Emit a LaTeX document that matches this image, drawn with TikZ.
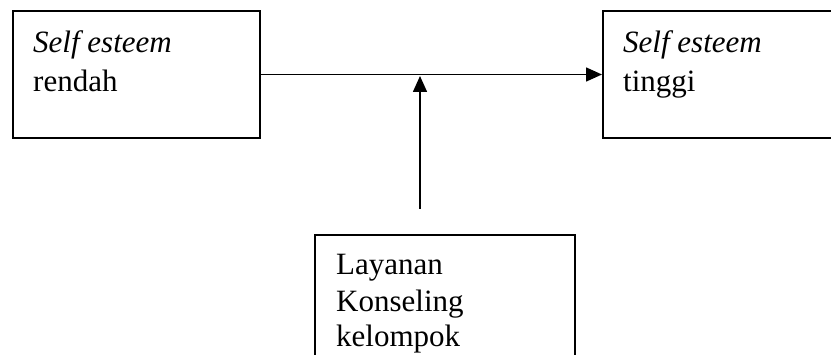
\documentclass[tikz,border=0pt]{standalone}
\usepackage{fontspec}
\setmainfont{Liberation Serif}
\usetikzlibrary{arrows.meta}
\begin{document}
\begin{tikzpicture}[x=1pt,y=1pt,
  boxstyle/.style={draw, line width=2pt, inner sep=0, anchor=south west},
  txt/.style={inner sep=0, anchor=base west},
  conn/.style={line width=1.6pt, -{Triangle[length=16pt,width=14pt]}}]
\useasboundingbox (0,0) rectangle (831,354);
\clip (0,0) rectangle (831,354);
\node[boxstyle, minimum width=247pt, minimum height=127pt] (low) at (12,215) {};
\node[boxstyle, minimum width=260pt, minimum height=127pt] (high) at (602,215) {};
\node[boxstyle, minimum width=260pt, minimum height=140pt] (layanan) at (314,-22) {};
\node[txt, font=\fontsize{31}{38.5}\selectfont] (lowtxt) at (33,301)
  {\begin{tabular}[t]{@{}l@{}}\textit{Self esteem}\\ rendah\end{tabular}};
\node[txt, font=\fontsize{31}{38.5}\selectfont] (hightxt) at (623,301)
  {\begin{tabular}[t]{@{}l@{}}\textit{Self esteem}\\ tinggi\end{tabular}};
\node[txt, font=\fontsize{31}{36}\selectfont] (laytxt) at (336,79)
  {\begin{tabular}[t]{@{}l@{}}Layanan\\ Konseling\\ kelompok\end{tabular}};
\coordinate (vstart) at (420,145);
\coordinate (meet) at (420,278);
\draw[conn] (low.east) -- (high.west);
\draw[conn] (vstart) -- (meet);
\end{tikzpicture}
\end{document}
